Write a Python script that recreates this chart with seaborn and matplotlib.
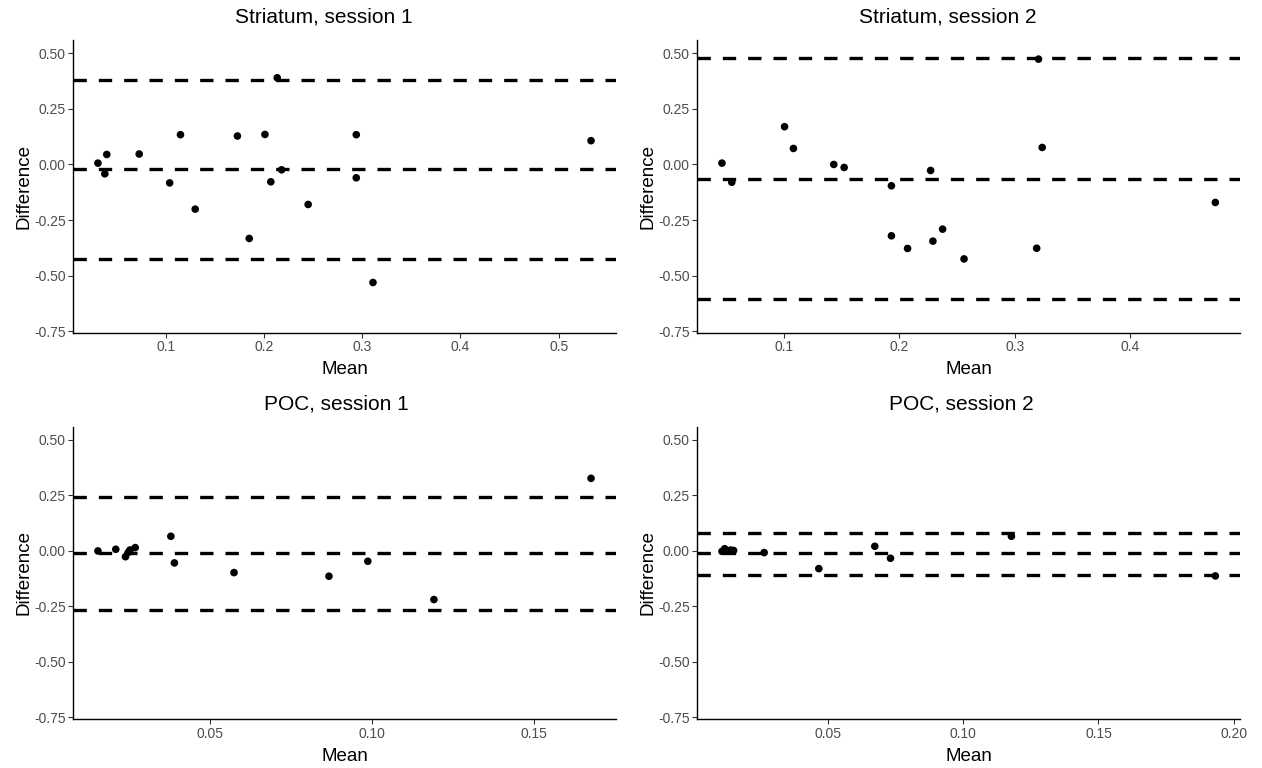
import matplotlib
matplotlib.use("Agg")
import matplotlib.pyplot as plt
import seaborn as sns
import pandas as pd

# Bland-Altman agreement: mean of the two measurements vs. their difference
striatum_s1_mean = [0.031, 0.038, 0.040, 0.073, 0.104, 0.115, 0.130, 0.173, 0.185,
                    0.201, 0.207, 0.2135, 0.218, 0.245, 0.294, 0.294, 0.311, 0.533]
striatum_s1_diff = [0.006, -0.042, 0.045, 0.047, -0.083, 0.134, -0.201, 0.128, -0.333,
                    0.135, -0.078, 0.390, -0.024, -0.180, 0.134, -0.060, -0.531, 0.107]

striatum_s2_mean = [0.046, 0.0545, 0.1003, 0.108, 0.143, 0.152, 0.193, 0.193, 0.207,
                    0.227, 0.229, 0.2374, 0.256, 0.319, 0.3206, 0.3238, 0.474]
striatum_s2_diff = [0.006, -0.080, 0.170, 0.072, 0.000, -0.0135, -0.096, -0.321, -0.378,
                    -0.027, -0.345, -0.291, -0.425, -0.377, 0.474, 0.0765, -0.171]

poc_s1_mean = [0.0153, 0.0208, 0.0238, 0.0247, 0.0252, 0.0268, 0.0378, 0.0389,
               0.0573, 0.0866, 0.0986, 0.119, 0.1675]
poc_s1_diff = [0.000, 0.0075, -0.026, -0.006, 0.0045, 0.015, 0.066, -0.054,
               -0.0976, -0.114, -0.0465, -0.219, 0.327]

poc_s2_mean = [0.0108, 0.0118, 0.0128, 0.0140, 0.0151, 0.0264, 0.0466, 0.0673,
               0.0731, 0.1178, 0.1932]
poc_s2_diff = [-0.002, 0.010, 0.000, 0.004, 0.002, -0.0075, -0.0796, 0.021,
               -0.033, 0.066, -0.1126]

# bias and limits of agreement (upper, bias, lower) per panel
striatum_s1_lines = [0.378, -0.0225, -0.425]
striatum_s2_lines = [0.479, -0.0645, -0.607]
poc_s1_lines = [0.245, -0.0105, -0.266]
poc_s2_lines = [0.0826, -0.0105, -0.1066]

titles = ["Striatum, session 1", "Striatum, session 2", "POC, session 1", "POC, session 2"]
y_ticks = [-0.75, -0.50, -0.25, 0.00, 0.25, 0.50]
y_tick_labels = ["-0.75", "-0.50", "-0.25", "0.00", "0.25", "0.50"]
x_ticks = [[0.1, 0.2, 0.3, 0.4, 0.5], [0.1, 0.2, 0.3, 0.4],
           [0.05, 0.10, 0.15], [0.05, 0.10, 0.15, 0.20]]
x_tick_labels = [["0.1", "0.2", "0.3", "0.4", "0.5"], ["0.1", "0.2", "0.3", "0.4"],
                 ["0.05", "0.10", "0.15"], ["0.05", "0.10", "0.15", "0.20"]]

panels = [
    (striatum_s1_mean, striatum_s1_diff, striatum_s1_lines),
    (striatum_s2_mean, striatum_s2_diff, striatum_s2_lines),
    (poc_s1_mean, poc_s1_diff, poc_s1_lines),
    (poc_s2_mean, poc_s2_diff, poc_s2_lines),
]

sns.set_style("ticks")
plt.rcParams["font.family"] = ["Liberation Sans", "DejaVu Sans"]

W, H = 1262, 768
fig = plt.figure(figsize=(W / 100, H / 100), dpi=100)

# axes boxes in pixels: left, top, right, bottom
boxes = [(73.3, 40.0, 615.7, 332.7), (697.3, 40.0, 1240.0, 332.7),
         (73.3, 426.6, 615.7, 719.0), (697.3, 426.6, 1240.0, 719.0)]
# horizontal title anchor (axes fraction) for each panel
title_x = [0.462, 0.461, 0.485, 0.486]

tick_color = "#4D4D4D"
for i, ((xm, yd, lines), (l, t, r, b)) in enumerate(zip(panels, boxes)):
    ax = fig.add_axes([l / W, (H - b) / H, (r - l) / W, (b - t) / H])
    df = pd.DataFrame({"Mean": xm, "Difference": yd})
    for yv in lines:
        ax.axhline(yv, color="black", lw=2.4, linestyle=(0, (4, 3.6)), zorder=1)
    sns.scatterplot(data=df, x="Mean", y="Difference", ax=ax, color="black",
                    s=30, edgecolor="none", zorder=3)
    span = max(xm) - min(xm)
    ax.set_xlim(min(xm) - 0.05 * span, max(xm) + 0.05 * span)
    ax.set_ylim(-0.757, 0.56)
    ax.set_yticks(y_ticks)
    ax.set_yticklabels(y_tick_labels)
    ax.set_xticks(x_ticks[i])
    ax.set_xticklabels(x_tick_labels[i])
    ax.tick_params(axis="both", labelsize=10, labelcolor=tick_color, color="#333333",
                   length=3.5, width=0.8, pad=2)
    ax.set_xlabel("Mean", fontsize=13.5, color="black", labelpad=5)
    ax.set_ylabel("Difference", fontsize=13.5, color="black", labelpad=1)
    ax.set_title(titles[i], fontsize=15, color="black", pad=12.5, x=title_x[i])
    for side in ("left", "bottom"):
        ax.spines[side].set_linewidth(1.0)
        ax.spines[side].set_color("black")
    sns.despine(ax=ax)

fig.savefig("out.png", dpi=100)
